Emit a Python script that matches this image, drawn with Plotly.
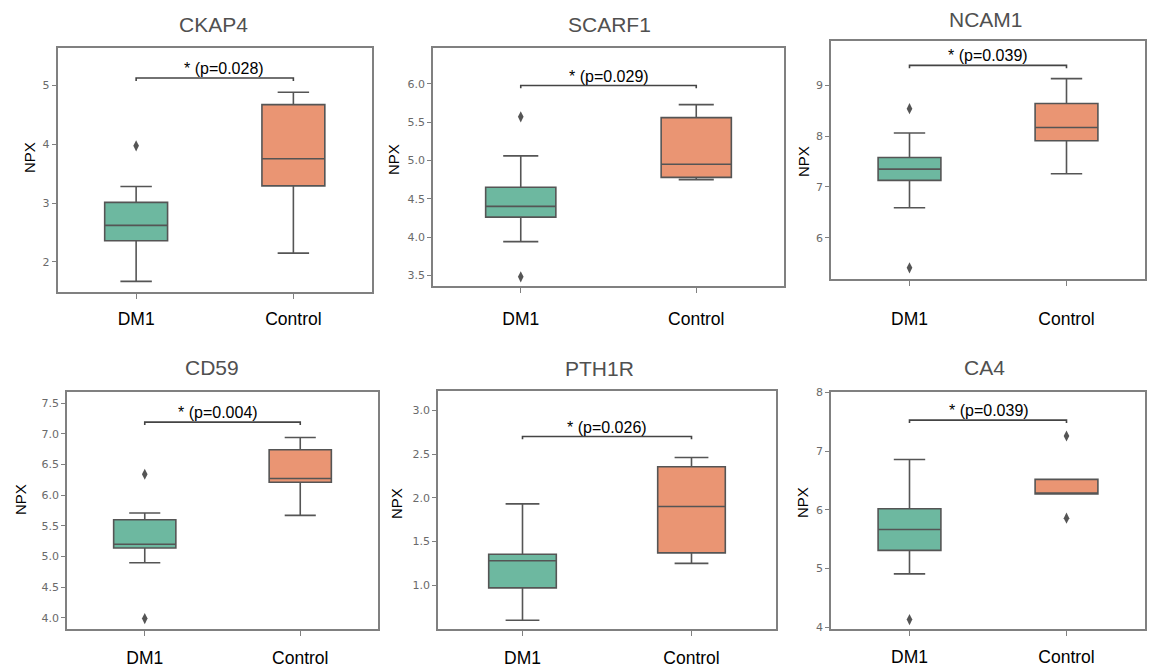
import plotly.graph_objects as go

# page is rendered with an 8px body margin; figure pixels = page pixels - OFF
OFF = 8
W, H = 1156 - OFF, 667 - OFF

genes = ["CKAP4", "SCARF1", "NCAM1", "CD59", "PTH1R", "CA4"]
groups = ["DM1", "Control"]
p_labels = ["* (p=0.028)", "* (p=0.029)", "* (p=0.039)", "* (p=0.004)", "* (p=0.026)", "* (p=0.039)"]

# DM1 box statistics
dm1_lower = [1.67, 3.94, 6.59, 4.90, 0.60, 4.91]
dm1_q1 = [2.36, 4.26, 7.13, 5.14, 0.97, 5.31]
dm1_median = [2.62, 4.40, 7.35, 5.20, 1.28, 5.665]
dm1_q3 = [3.01, 4.65, 7.58, 5.60, 1.355, 6.02]
dm1_upper = [3.28, 5.06, 8.06, 5.71, 1.93, 6.86]
dm1_outliers = [[3.97], [5.57, 3.48], [8.54, 5.41], [6.34, 3.99], [], [4.13]]

# Control box statistics
ctrl_lower = [2.15, 4.75, 7.26, 5.67, 1.25, 6.27]
ctrl_q1 = [3.29, 4.78, 7.91, 6.21, 1.37, 6.27]
ctrl_median = [3.75, 4.95, 8.17, 6.27, 1.90, 6.27]
ctrl_q3 = [4.67, 5.56, 8.64, 6.74, 2.355, 6.52]
ctrl_upper = [4.88, 5.73, 9.13, 6.94, 2.46, 6.52]
ctrl_outliers = [[], [], [], [], [], [7.26, 5.86]]

# significance bracket heights
bracket_y = [5.12, 5.98, 9.39, 7.19, 2.70, 7.53]

# axis settings
y_ranges = [[1.49, 5.63], [3.36, 6.47], [5.19, 9.87], [3.82, 7.68], [0.50, 3.22], [3.97, 8.01]]
y_ticks = [[2, 3, 4, 5], [3.5, 4.0, 4.5, 5.0, 5.5, 6.0], [6, 7, 8, 9],
           [4.0, 4.5, 5.0, 5.5, 6.0, 6.5, 7.0, 7.5], [1.0, 1.5, 2.0, 2.5, 3.0], [4, 5, 6, 7, 8]]
y_fmt = ["d", ".1f", "d", ".1f", ".1f", "d"]

# layout (page pixels)
panel_x = [[57.5, 372], [433, 784], [831, 1145], [67, 378], [438, 776], [831, 1145]]
panel_y = [[48, 292], [48, 286], [41, 279], [392, 629], [391, 629], [392, 629]]
title_pos = [[213, 25], [609, 25], [986, 20], [212, 368], [599, 369], [985, 368]]
npx_pos = [[30, 158], [394, 160], [804, 162], [21, 500], [396, 504], [802, 503]]
xlabel_center = [318, 318, 318, 657, 657, 656]
ptext_shift = [9, 0, 0, -5, 0, 1]

c_dm1 = "#6DB8A0"
c_ctrl = "#EA9573"
c_line = "#555555"
c_frame = "#808080"


def fx(px):
    return (px - OFF) / W


def fy(py):
    return 1 - (py - OFF) / H


fig = go.Figure()
layout = dict(
    width=W, height=H, margin=dict(l=0, r=0, t=0, b=0, autoexpand=False),
    paper_bgcolor="white", plot_bgcolor="white", showlegend=False,
    font=dict(family="Liberation Sans, Arial, sans-serif", color="black"),
)
annotations = []

for i, g in enumerate(genes):
    n = "" if i == 0 else str(i + 1)
    xa, ya = "x" + n, "y" + n
    x0, x1 = panel_x[i]
    y0, y1 = panel_y[i]
    xfont = 17.5
    standoff = xlabel_center[i] - y1 - 5 - xfont / 2 - 7
    layout["xaxis" + n] = dict(
        domain=[fx(x0), fx(x1)], anchor=ya, type="category", automargin=False,
        categoryorder="array", categoryarray=groups, range=[-0.5, 1.5],
        showline=True, mirror=True, linecolor=c_frame, linewidth=1.5,
        ticks="outside", ticklen=5, tickcolor=c_frame, tickwidth=1.2,
        tickfont=dict(size=xfont, color="black"), ticklabelstandoff=max(0, int(round(standoff))),
        showgrid=False, zeroline=False, fixedrange=True,
    )
    layout["yaxis" + n] = dict(
        domain=[fy(y1), fy(y0)], anchor=xa, range=y_ranges[i], automargin=False,
        tickvals=y_ticks[i], tickformat=y_fmt[i],
        showline=True, mirror=True, linecolor=c_frame, linewidth=1.5,
        ticks="outside", ticklen=4, tickcolor=c_frame, tickwidth=1.2,
        tickfont=dict(size=11, color="#6a6a6a", family="DejaVu Sans, sans-serif"),
        showgrid=False, zeroline=False, fixedrange=True,
    )

    fig.add_trace(go.Box(
        x=["DM1"], q1=[dm1_q1[i]], median=[dm1_median[i]], q3=[dm1_q3[i]],
        lowerfence=[dm1_lower[i]], upperfence=[dm1_upper[i]],
        width=0.4, whiskerwidth=0.5, fillcolor=c_dm1, line=dict(color=c_line, width=1.6),
        boxpoints=False, xaxis=xa, yaxis=ya, hoverinfo="skip",
    ))
    fig.add_trace(go.Box(
        x=["Control"], q1=[ctrl_q1[i]], median=[ctrl_median[i]], q3=[ctrl_q3[i]],
        lowerfence=[ctrl_lower[i]], upperfence=[ctrl_upper[i]],
        width=0.4, whiskerwidth=0.5, fillcolor=c_ctrl, line=dict(color=c_line, width=1.6),
        boxpoints=False, xaxis=xa, yaxis=ya, hoverinfo="skip",
    ))
    out_x = ["DM1"] * len(dm1_outliers[i]) + ["Control"] * len(ctrl_outliers[i])
    out_y = dm1_outliers[i] + ctrl_outliers[i]
    if out_y:
        fig.add_trace(go.Scatter(
            x=out_x, y=out_y, mode="markers",
            marker=dict(symbol="diamond-tall", size=8, color=c_line),
            xaxis=xa, yaxis=ya, hoverinfo="skip",
        ))
    # significance bracket
    span = y_ranges[i][1] - y_ranges[i][0]
    h = 0.012 * span
    b = bracket_y[i]
    fig.add_trace(go.Scatter(
        x=["DM1", "DM1", "Control", "Control"], y=[b - h, b, b, b - h],
        mode="lines", line=dict(color="#444444", width=1.6),
        xaxis=xa, yaxis=ya, hoverinfo="skip",
    ))
    annotations.append(dict(
        x=0.5, y=b, xref=xa, yref=ya, text=p_labels[i], showarrow=False,
        xanchor="center", yanchor="bottom", yshift=-1, xshift=ptext_shift[i],
        font=dict(size=16, color="black"),
    ))
    # panel title
    tx, ty = title_pos[i]
    annotations.append(dict(
        x=fx(tx), y=fy(ty), xref="paper", yref="paper", text=g, showarrow=False,
        xanchor="center", yanchor="middle", font=dict(size=21, color="#505050"),
    ))
    # y-axis label
    nx, ny = npx_pos[i]
    annotations.append(dict(
        x=fx(nx), y=fy(ny), xref="paper", yref="paper", text="NPX", showarrow=False,
        xanchor="center", yanchor="middle", textangle=-90, font=dict(size=15, color="black"),
    ))

layout["annotations"] = annotations
fig.update_layout(**layout)
fig.write_html("out.html")
